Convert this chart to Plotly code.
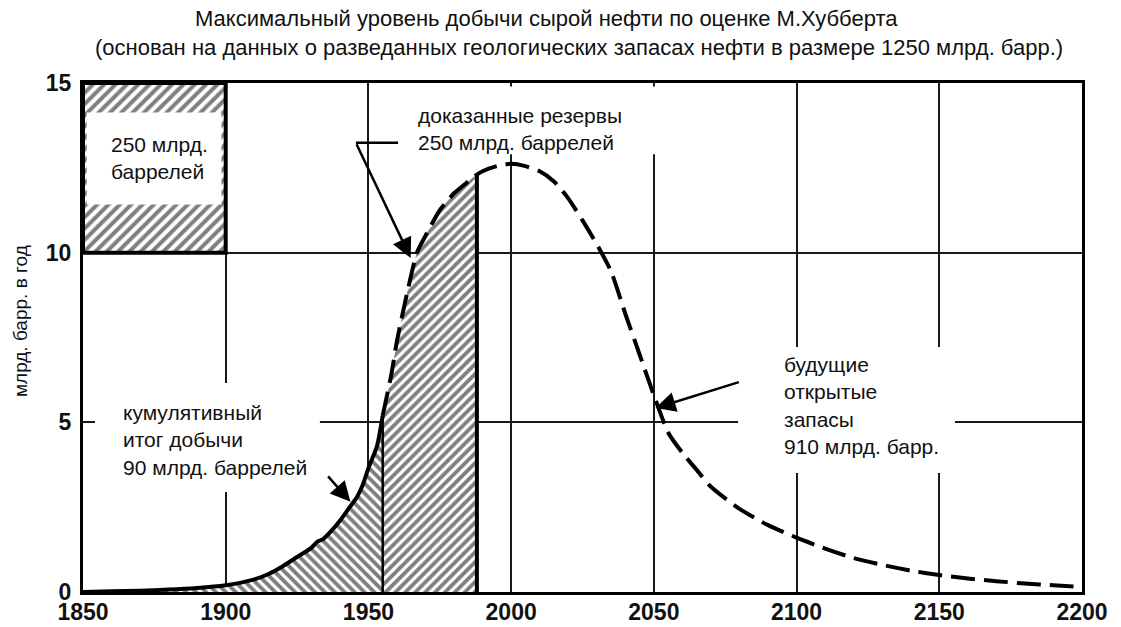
import plotly.graph_objects as go
import numpy as np

# ---------------- data ----------------
years = [1850, 1860, 1870, 1880, 1890, 1900, 1905, 1910, 1915, 1920, 1925, 1930,
         1932, 1934, 1937, 1940, 1943, 1946, 1948, 1950, 1953, 1955, 1958, 1960,
         1963, 1967, 1970, 1975, 1980, 1985, 1988, 1990, 1995, 2000, 2005, 2010,
         2015, 2020, 2025, 2030, 2035, 2040, 2045, 2050, 2055, 2060, 2065, 2070,
         2080, 2090, 2100, 2110, 2120, 2130, 2140, 2150, 2160, 2170, 2180, 2190, 2200]
production = [0.0, 0.02, 0.04, 0.07, 0.12, 0.2, 0.27, 0.37, 0.53, 0.76, 1.03, 1.3,
              1.48, 1.55, 1.8, 2.1, 2.45, 2.8, 3.15, 3.65, 4.3, 5.2, 6.4, 7.4,
              8.6, 10.0, 10.5, 11.25, 11.75, 12.1, 12.3, 12.4, 12.55, 12.62, 12.55, 12.4,
              12.1, 11.6, 10.95, 10.25, 9.45, 8.2, 7.0, 5.8, 4.7, 4.1, 3.6, 3.1,
              2.45, 1.97, 1.6, 1.28, 1.0, 0.8, 0.63, 0.5, 0.4, 0.32, 0.25, 0.2, 0.15]

x_ticks = [1850, 1900, 1950, 2000, 2050, 2100, 2150, 2200]
y_ticks = [0, 5, 10, 15]

cumulative_end = 1955      # end of produced (cumulative) part
proved_end = 1988          # end of proved reserves part

scale_box_x = [1850, 1900]  # 250 bn barrel reference box
scale_box_y = [10, 15]

title_line1 = "Максимальный уровень добычи сырой нефти по оценке М.Хубберта"
title_line2 = "(основан на данных о разведанных геологических запасах нефти в размере 1250 млрд. барр.)"
y_title = "млрд. барр. в год"
box_label = "250 млрд.<br>баррелей"
proved_label = "доказанные резервы<br>250 млрд. баррелей"
cumulative_label = "кумулятивный<br>итог добычи<br>90 млрд. баррелей"
future_label = "будущие<br>открытые<br>запасы<br>910 млрд. барр."

# ---------------- figure ----------------
yrs = np.array(years, dtype=float)
prod = np.array(production, dtype=float)

m_cum = yrs <= cumulative_end
m_proved = (yrs >= cumulative_end) & (yrs <= proved_end)
m_future = yrs >= cumulative_end

FONT = "Liberation Sans"
fig = go.Figure()

hatch = dict(fgcolor="black", bgcolor="white", size=7, solidity=0.55)

# hatched cumulative production
fig.add_trace(go.Scatter(
    x=yrs[m_cum], y=prod[m_cum], mode="lines", fill="tozeroy",
    line=dict(width=0, color="rgba(0,0,0,0)", shape="spline", smoothing=0.6), fillcolor="white",
    fillpattern=dict(shape="\\", **hatch),
    hoverinfo="skip", showlegend=False))

# hatched proved reserves
fig.add_trace(go.Scatter(
    x=yrs[m_proved], y=prod[m_proved], mode="lines", fill="tozeroy",
    line=dict(width=0, color="rgba(0,0,0,0)", shape="spline", smoothing=0.6), fillcolor="white",
    fillpattern=dict(shape="/", **hatch),
    hoverinfo="skip", showlegend=False))

# scale box (250 bn barrels)
bx = [scale_box_x[0], scale_box_x[1], scale_box_x[1], scale_box_x[0], scale_box_x[0]]
by = [scale_box_y[0], scale_box_y[0], scale_box_y[1], scale_box_y[1], scale_box_y[0]]
fig.add_trace(go.Scatter(
    x=bx, y=by, mode="lines", fill="toself",
    line=dict(width=4, color="black"), fillcolor="white",
    fillpattern=dict(shape="/", fgcolor="black", bgcolor="white", size=8, solidity=0.5),
    hoverinfo="skip", showlegend=False))

# boundaries
v_cum = float(np.interp(cumulative_end, yrs, prod))
v_proved = float(np.interp(proved_end, yrs, prod))
fig.add_trace(go.Scatter(x=[cumulative_end, cumulative_end], y=[0, v_cum], mode="lines",
                         line=dict(width=2.5, color="black"), hoverinfo="skip", showlegend=False))
fig.add_trace(go.Scatter(x=[proved_end, proved_end], y=[0, v_proved], mode="lines",
                         line=dict(width=4, color="black"), hoverinfo="skip", showlegend=False))

# curve: solid (historic) and dashed (forecast)
fig.add_trace(go.Scatter(x=yrs[m_cum], y=prod[m_cum], mode="lines",
                         line=dict(width=4, color="black", shape="spline", smoothing=0.6),
                         hoverinfo="skip", showlegend=False))
fig.add_trace(go.Scatter(x=yrs[m_future], y=prod[m_future], mode="lines",
                         line=dict(width=4, color="black", dash="24px,9px", shape="spline", smoothing=0.6),
                         hoverinfo="skip", showlegend=False))

# white boxes behind labels (interrupt grid lines)
shapes = [
    dict(type="rect", xref="x", yref="y", x0=1851.3, x1=1898.5, y0=11.42, y1=14.13,
         fillcolor="white", line=dict(width=0), layer="above"),
    dict(type="rect", xref="x", yref="y", x0=1854.2, x1=1933.0, y0=2.95, y1=6.16,
         fillcolor="white", line=dict(width=0), layer="above"),
    dict(type="rect", xref="x", yref="y", x0=1961.5, x1=2059.0, y0=12.9, y1=14.9,
         fillcolor="white", line=dict(width=0), layer="above"),
    dict(type="rect", xref="x", yref="y", x0=2079.5, x1=2155.5, y0=3.51, y1=7.22,
         fillcolor="white", line=dict(width=0), layer="above"),
    dict(type="line", xref="x", yref="y", x0=1945.6, x1=1960.4, y0=13.24, y1=13.24,
         line=dict(width=2.5, color="black"), layer="above"),
]

txt_font = dict(family=FONT, size=21, color="#111")
annotations = [
    dict(xref="paper", yref="paper", x=(193 - 83) / 999, y=(592 - 19) / 509,
         xanchor="left", yanchor="middle", text=title_line1, showarrow=False,
         font=dict(family=FONT, size=22, color="#111")),
    dict(xref="paper", yref="paper", x=(93 - 83) / 999, y=(592 - 48) / 509,
         xanchor="left", yanchor="middle", text=title_line2, showarrow=False,
         font=dict(family=FONT, size=22, color="#111")),
    dict(xref="paper", yref="paper", x=(20 - 83) / 999, y=(592 - 321) / 509,
         xanchor="center", yanchor="middle", text=y_title, textangle=-90, showarrow=False,
         font=dict(family=FONT, size=19, color="#111")),
    dict(xref="x", yref="y", x=1859.2, y=12.79, xanchor="left", yanchor="middle",
         align="left", text=box_label, showarrow=False, font=txt_font),
    dict(xref="x", yref="y", x=1966.7, y=13.63, xanchor="left", yanchor="middle",
         align="left", text=proved_label, showarrow=False, font=txt_font),
    dict(xref="x", yref="y", x=1863.4, y=4.48, xanchor="left", yanchor="middle",
         align="left", text=cumulative_label, showarrow=False, font=txt_font),
    dict(xref="x", yref="y", x=2095.0, y=5.5, xanchor="left", yanchor="middle",
         align="left", text=future_label, showarrow=False, font=txt_font),
    # arrows
    dict(xref="x", yref="y", axref="x", ayref="y", x=1964.8, y=9.84, ax=1945.6, ay=13.24,
         text="", showarrow=True, arrowhead=2, arrowsize=1.6, arrowwidth=2.5, arrowcolor="black"),
    dict(xref="x", yref="y", axref="x", ayref="y", x=1943.7, y=2.66, ax=1935.4, ay=3.45,
         text="", showarrow=True, arrowhead=2, arrowsize=1.6, arrowwidth=2.5, arrowcolor="black"),
    dict(xref="x", yref="y", axref="x", ayref="y", x=2050.6, y=5.42, ax=2080.3, ay=6.2,
         text="", showarrow=True, arrowhead=2, arrowsize=1.6, arrowwidth=2.5, arrowcolor="black"),
]

tick_font = dict(family=FONT, size=23, color="#111", weight="bold")
fig.update_layout(
    width=1121, height=627,
    margin=dict(l=83, r=39, t=83, b=35, pad=0, autoexpand=False),
    paper_bgcolor="white", plot_bgcolor="white",
    showlegend=False,
    shapes=shapes, annotations=annotations,
    xaxis=dict(range=[x_ticks[0], x_ticks[-1]], tickvals=x_ticks, ticktext=[str(t) for t in x_ticks],
               showgrid=True, gridcolor="#1a1a1a", gridwidth=2, zeroline=False,
               showline=True, mirror=True, linecolor="black", linewidth=3, automargin=False,
               ticks="", tickfont=tick_font, ticklabelstandoff=-3),
    yaxis=dict(range=[y_ticks[0], y_ticks[-1]], tickvals=y_ticks, ticktext=[str(t) for t in y_ticks],
               showgrid=True, gridcolor="#1a1a1a", gridwidth=2, zeroline=False,
               showline=True, mirror=True, linecolor="black", linewidth=3, automargin=False,
               ticks="", tickfont=tick_font, ticklabelstandoff=4),
)

fig.write_html(
    "out.html",
    config={"responsive": False, "displayModeBar": False},
    post_script="document.body.style.margin='0';document.body.style.padding='0';"
                "document.body.style.overflow='hidden';",
)
